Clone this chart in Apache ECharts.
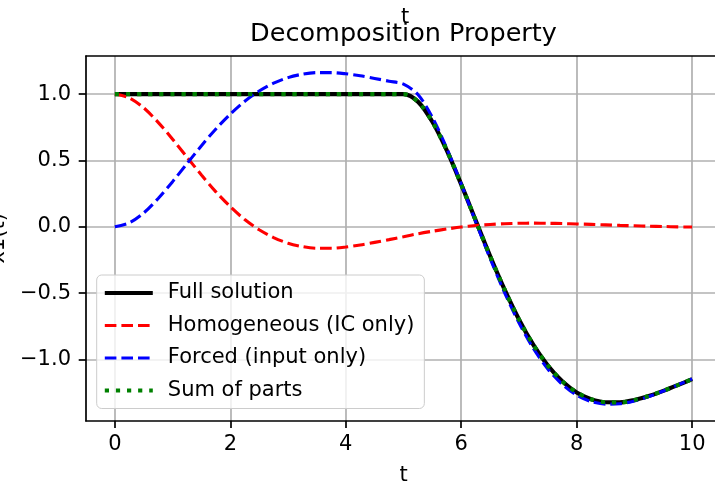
<!DOCTYPE html>
<html>
<head>
<meta charset="utf-8">
<script src="https://cdn.jsdelivr.net/npm/echarts@6/dist/echarts.min.js"></script>
<style>
  html, body { margin: 0; padding: 0; background: #ffffff; }
  #chart { width: 715px; height: 485px; }
</style>
</head>
<body>
<div id="chart"></div>
<script>
// Time samples (s)
const tValues = [
  0, 0.25, 0.5, 0.75, 1, 1.25, 1.5, 1.75, 2, 2.25, 2.5, 2.75, 3, 3.25, 3.5, 3.75,
  4, 4.25, 4.5, 4.75, 5, 5.25, 5.5, 5.75, 6, 6.25, 6.5, 6.75, 7, 7.25, 7.5, 7.75,
  8, 8.25, 8.5, 8.75, 9, 9.25, 9.5, 9.75, 10
];

// x1(t): complete response
const fullSolution = [
  1, 1, 1, 1, 1, 1, 1, 1, 1, 1, 1, 1, 1, 1, 1, 1, 1, 1, 1, 1, 1,
  0.943, 0.791, 0.575, 0.319, 0.048, -0.221, -0.473, -0.699, -0.891, -1.046,
  -1.165, -1.249, -1.300, -1.323, -1.324, -1.306, -1.276, -1.237, -1.194, -1.149
];

// x1(t): zero-input response (initial condition only)
const homogeneous = [
  1, 0.971, 0.896, 0.787, 0.660, 0.524, 0.390, 0.263, 0.151, 0.054, -0.023,
  -0.082, -0.124, -0.150, -0.162, -0.162, -0.153, -0.138, -0.118, -0.097, -0.075,
  -0.053, -0.034, -0.017, -0.002, 0.009, 0.017, 0.023, 0.026, 0.027, 0.026,
  0.024, 0.021, 0.018, 0.014, 0.010, 0.007, 0.004, 0.002, -0.001, -0.002
];

// x1(t): zero-state response (input only)
const forced = [
  0, 0.029, 0.104, 0.213, 0.340, 0.476, 0.611, 0.737, 0.849, 0.946, 1.023,
  1.082, 1.124, 1.150, 1.162, 1.162, 1.153, 1.138, 1.118, 1.097, 1.075,
  0.996, 0.825, 0.591, 0.322, 0.039, -0.238, -0.496, -0.724, -0.918, -1.072,
  -1.188, -1.270, -1.318, -1.337, -1.334, -1.313, -1.280, -1.238, -1.193, -1.147
];

// homogeneous + forced
const sumOfParts = [
  1, 1, 1, 1, 1, 1, 1, 1, 1, 1, 1, 1, 1, 1, 1, 1, 1, 1, 1, 1, 1,
  0.943, 0.791, 0.575, 0.319, 0.048, -0.221, -0.473, -0.699, -0.891, -1.046,
  -1.165, -1.249, -1.300, -1.323, -1.324, -1.306, -1.276, -1.237, -1.194, -1.149
];

const xTicks = [0, 2, 4, 6, 8, 10];
const yTicks = [-1, -0.5, 0, 0.5, 1];

const FONT = 'DejaVu Sans';
const TEXT = '#000000';
const SPINE = { color: '#000000', width: 1.7 };

// line styles shared by the series and their legend samples
const styles = {
  'Full solution':         { color: '#000000', width: 4.2, type: 'solid', cap: 'butt' },
  'Homogeneous (IC only)': { color: '#ff0000', width: 3.1, type: [11.6, 5], cap: 'butt' },
  'Forced (input only)':   { color: '#0000ff', width: 3.1, type: [11.6, 5], cap: 'butt' },
  'Sum of parts':          { color: '#008000', width: 4.2, type: [4.2, 6.9], cap: 'butt' }
};

function pairs(ys) {
  return tValues.map((t, i) => [t, ys[i]]);
}

function fmtY(v) {
  const s = Math.abs(v).toFixed(1);
  return v < 0 ? '\u2212' + s : s;
}

function lineSeries(name, ys) {
  return {
    name: name, type: 'line', data: pairs(ys), xAxisIndex: 0,
    symbol: 'none', smooth: 0.3, silent: true,
    itemStyle: { color: styles[name].color, opacity: 0 },
    lineStyle: styles[name]
  };
}

const chart = echarts.init(document.getElementById('chart'), null, { renderer: 'canvas' });

const option = {
  animation: false,
  backgroundColor: '#ffffff',
  title: [
    {
      text: 'Decomposition Property',
      left: 403.5, top: 19.5, textAlign: 'center', padding: 0,
      textStyle: { fontFamily: FONT, fontSize: 25.5, fontWeight: 'normal', color: TEXT, lineHeight: 30 }
    },
    {
      text: 't',
      left: 405, top: 6.5, textAlign: 'center', padding: 0,
      textStyle: { fontFamily: FONT, fontSize: 21, fontWeight: 'normal', color: TEXT, lineHeight: 22 }
    }
  ],
  legend: {
    orient: 'vertical',
    left: 96.7, top: 275,
    padding: [7, 10, 7, 6],
    itemWidth: 48, itemHeight: 14, itemGap: 10.5,
    backgroundColor: 'rgba(255,255,255,0.8)',
    borderColor: '#cccccc', borderWidth: 1, borderRadius: 5,
    selectedMode: false,
    itemStyle: { opacity: 0 },
    textStyle: { fontFamily: FONT, fontSize: 21, color: TEXT, lineHeight: 22, padding: [0, 0, 0, 10] },
    data: Object.keys(styles).map(name => ({ name: name, lineStyle: styles[name], itemStyle: { opacity: 0 } }))
  },
  grid: {
    left: 86, top: 56, width: 635, height: 364.7,
    outerBoundsMode: 'none', containLabel: false, show: false
  },
  xAxis: [
    {
      type: 'value', min: -0.5, max: 10.5, position: 'bottom',
      name: 't', nameLocation: 'middle', nameGap: 44,
      nameTextStyle: { fontFamily: FONT, fontSize: 21, color: TEXT, lineHeight: 22 },
      axisLine: { show: true, onZero: false, lineStyle: SPINE },
      axisTick: { show: true, customValues: xTicks, length: 7.3, lineStyle: SPINE },
      axisLabel: { customValues: xTicks, margin: 13, fontFamily: FONT, fontSize: 21, color: TEXT },
      splitLine: { show: true, lineStyle: { color: '#b0b0b0', width: 1.7 } }
    },
    {
      // top frame edge
      type: 'value', min: -0.5, max: 10.5, position: 'top',
      axisLine: { show: true, onZero: false, lineStyle: SPINE },
      axisTick: { show: false }, axisLabel: { show: false }, splitLine: { show: false }
    }
  ],
  yAxis: {
    type: 'value', min: -1.462, max: 1.287,
    name: 'x1(t)', nameLocation: 'middle', nameRotate: 90, nameGap: 74,
    nameTextStyle: { fontFamily: FONT, fontSize: 21, color: TEXT, lineHeight: 22 },
    axisLine: { show: true, onZero: false, lineStyle: SPINE },
    axisTick: { show: true, customValues: yTicks, length: 7.3, lineStyle: SPINE },
    axisLabel: { customValues: yTicks, margin: 15, fontFamily: FONT, fontSize: 21, color: TEXT, formatter: fmtY },
    splitLine: { show: true, lineStyle: { color: '#b0b0b0', width: 1.7 } }
  },
  series: [
    lineSeries('Full solution', fullSolution),
    lineSeries('Homogeneous (IC only)', homogeneous),
    lineSeries('Forced (input only)', forced),
    lineSeries('Sum of parts', sumOfParts)
  ]
};

chart.setOption(option);
</script>
</body>
</html>
